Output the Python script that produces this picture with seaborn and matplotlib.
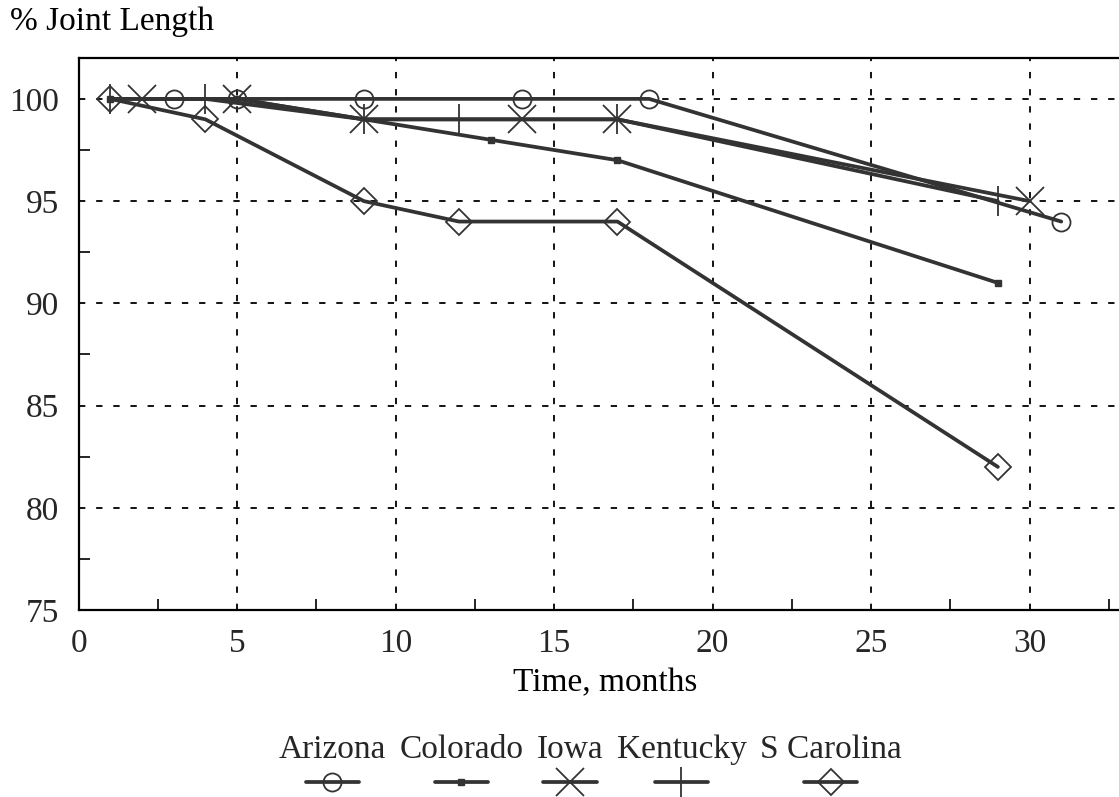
import matplotlib
matplotlib.use("Agg")
import matplotlib.pyplot as plt
from matplotlib.offsetbox import VPacker
from matplotlib.ticker import MultipleLocator
import seaborn as sns
import pandas as pd

# ---- data ----
states = ["Arizona", "Colorado", "Iowa", "Kentucky", "S Carolina"]
az_months = [3, 5, 9, 14, 18, 31]
az_pct = [100, 100, 100, 100, 100, 94]
co_months = [1, 5, 13, 17, 29]
co_pct = [100, 100, 98, 97, 91]
ia_months = [2, 5, 9, 14, 17, 30]
ia_pct = [100, 100, 99, 99, 99, 95]
ky_months = [1, 4, 9, 12, 17, 29]
ky_pct = [100, 100, 99, 99, 99, 95]
sc_months = [1, 4, 9, 12, 17, 29]
sc_pct = [100, 99, 95, 94, 94, 82]

x_ticks = [0, 5, 10, 15, 20, 25, 30]
y_ticks = [75, 80, 85, 90, 95, 100]

series = {
    "Arizona": (az_months, az_pct),
    "Colorado": (co_months, co_pct),
    "Iowa": (ia_months, ia_pct),
    "Kentucky": (ky_months, ky_pct),
    "S Carolina": (sc_months, sc_pct),
}

sns.set_theme(style="white")
plt.rcParams["font.family"] = ["Liberation Serif", "DejaVu Serif"]

W, H = 1119, 797
fig = plt.figure(figsize=(W / 100, H / 100), dpi=100)
fig.patch.set_facecolor("white")
left_px, right_px, top_px, bot_px = 78.6, 1131, 58, 610
ax = fig.add_axes([left_px / W, 1 - bot_px / H, (right_px - left_px) / W, (bot_px - top_px) / H])
ax.set_facecolor("white")

line_col = "#333333"
styles = {
    "Arizona": dict(marker="o", markersize=13, markerfacecolor="none", markeredgewidth=1.3),
    "Colorado": dict(marker="s", markersize=5, markerfacecolor=line_col, markeredgewidth=1.0),
    "Iowa": dict(marker="x", markersize=20, markeredgewidth=1.3),
    "Kentucky": dict(marker="|", markersize=22, markeredgewidth=1.3),
    "S Carolina": dict(marker="D", markersize=13.5, markerfacecolor="none", markeredgewidth=1.3),
}

for st in states:
    xs, ys = series[st]
    df = pd.DataFrame({"month": xs, "pct": ys})
    sns.lineplot(data=df, x="month", y="pct", ax=ax, color=line_col, lw=2.7,
                 markeredgecolor=line_col, label=st, sort=False, estimator=None,
                 zorder=3, **styles[st])

ax.set_xlim(0, 33.2)
ax.set_ylim(75, 102)
ax.set_xticks(x_ticks)
ax.set_yticks(y_ticks)
ax.xaxis.set_minor_locator(MultipleLocator(2.5))
ax.yaxis.set_minor_locator(MultipleLocator(2.5))
ax.tick_params(axis="both", which="both", direction="in", labelsize=24,
               color="black", top=False, right=False, bottom=True, left=True)
ax.tick_params(axis="both", which="major", length=0)
ax.tick_params(axis="both", which="minor", length=8, width=1.2)
ax.tick_params(axis="x", which="major", pad=13)
ax.tick_params(axis="y", which="major", pad=14)

for sp in ["left", "bottom", "top"]:
    ax.spines[sp].set_visible(True)
    ax.spines[sp].set_color("black")
    ax.spines[sp].set_linewidth(1.6)
ax.spines["right"].set_visible(False)

for xv in x_ticks[1:]:
    ax.axvline(xv, color="black", lw=1.3, ls=(0, (3.5, 6)), zorder=1)
for yv in y_ticks[1:]:
    ax.axhline(yv, color="black", lw=1.3, ls=(0, (3.5, 6)), zorder=1)

ax.set_xlabel("Time, months", fontsize=24, color="black")
ax.xaxis.set_label_coords((605 - left_px) / (right_px - left_px), -(683 - bot_px) / (bot_px - top_px))
ax.xaxis.label.set_va("center")
ax.set_ylabel("% Joint Length", fontsize=24, rotation=0, color="black", ha="left", va="center")
ax.yaxis.set_label_coords((10 - left_px) / (right_px - left_px), 1 + (top_px - 22) / (bot_px - top_px))

handles, labels = ax.get_legend_handles_labels()
if ax.get_legend():
    ax.get_legend().remove()
leg = fig.legend(handles, labels, loc="upper center", ncol=5,
                 bbox_to_anchor=(590 / W, 1 - 718 / H), frameon=False,
                 fontsize=24, handlelength=1.6, columnspacing=0.4,
                 handletextpad=0.0, borderpad=0)
for col in leg._legend_handle_box.get_children():
    new_items = []
    for item in col.get_children():
        h, t = item.get_children()
        new_items.append(VPacker(children=[t, h], align="center", pad=0, sep=4))
    col._children = new_items

fig.savefig("out.png", dpi=100, facecolor="white")
